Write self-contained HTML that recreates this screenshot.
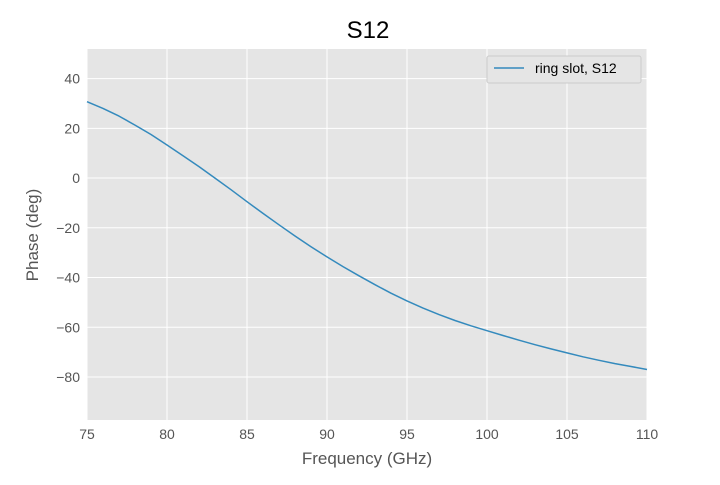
<!DOCTYPE html>
<html><head><meta charset="utf-8"><style>
body{margin:0;background:#fff;}
svg text{font-family:"Liberation Sans","DejaVu Sans",sans-serif;}
</style></head><body>
<svg id="chart" width="720" height="480" xmlns="http://www.w3.org/2000/svg">
<rect x="0" y="0" width="720" height="480" fill="#fff"/>
<rect x="87" y="49" width="560" height="371" fill="#e5e5e5"/>
<g id="grid"></g>
<g id="ticks"></g>
<path id="line" fill="none" stroke="#348abd" stroke-width="1.5" stroke-linejoin="round"/>
<text x="368" y="38" font-size="24" text-anchor="middle" fill="#000">S12</text>
<text x="367" y="464" font-size="17" text-anchor="middle" fill="#555">Frequency (GHz)</text>
<text x="38" y="235" font-size="17" text-anchor="middle" fill="#555" transform="rotate(-90 38 235)">Phase (deg)</text>
<g>
<rect x="487" y="56" width="154" height="27" fill="#e5e5e5" stroke="#ccc" stroke-width="1" rx="2"/>
<line x1="494" y1="68" x2="524" y2="68" stroke="#348abd" stroke-width="1.5"/>
<text x="535" y="73" font-size="14" fill="#000">ring slot, S12</text>
</g>
</svg>
<script>
const freqs=[75,76,77,78,79,80,81,82,83,84,85,86,87,88,89,90,91,92,93,94,95,96,97,98,99,100,101,102,103,104,105,106,107,108,109,110];
const phase=[30.7,28,24.9,21.3,17.5,13.3,9.0,4.6,0.0,-4.7,-9.5,-14.2,-18.8,-23.3,-27.6,-31.7,-35.6,-39.3,-42.9,-46.3,-49.4,-52.3,-54.9,-57.3,-59.4,-61.4,-63.3,-65.2,-67,-68.7,-70.3,-71.9,-73.3,-74.6,-75.8,-77];
const xTicks=[75,80,85,90,95,100,105,110];
const yTicks=[40,20,0,-20,-40,-60,-80];
const X0=87,X1=647,Y0=49,Y1=420,xmin=75,xmax=110,ymin=-97.3,ymax=51.9;
const sx=v=>X0+(v-xmin)/(xmax-xmin)*(X1-X0);
const sy=v=>Y1-(v-ymin)/(ymax-ymin)*(Y1-Y0);
const NS="http://www.w3.org/2000/svg";
const grid=document.getElementById('grid'),ticks=document.getElementById('ticks');
function mk(tag,attrs,parent){const e=document.createElementNS(NS,tag);for(const k in attrs)e.setAttribute(k,attrs[k]);parent.appendChild(e);return e;}
xTicks.forEach(t=>{
 const l=mk('line',{x1:sx(t),x2:sx(t),y1:Y0,y2:Y1,stroke:'#fff','stroke-width':1},grid);
 
 
 const tx=mk('text',{x:sx(t),y:Y1+19,'font-size':14,'text-anchor':'middle',fill:'#555'},ticks);
 tx.textContent=t;
 
 
});
yTicks.forEach(t=>{
 const l=mk('line',{x1:X0,x2:X1,y1:sy(t),y2:sy(t),stroke:'#fff','stroke-width':1},grid);
 
 
 const tx=mk('text',{x:X0-7,y:sy(t)+5,'font-size':14,'text-anchor':'end',fill:'#555'},ticks);
 tx.textContent=(t<0?'\u2212'+(-t):t);
 
 
});
document.getElementById('line').setAttribute('d',freqs.map((f,i)=>(i?'L':'M')+sx(f).toFixed(1)+','+sy(phase[i]).toFixed(1)).join(''));
</script>
</body></html>
